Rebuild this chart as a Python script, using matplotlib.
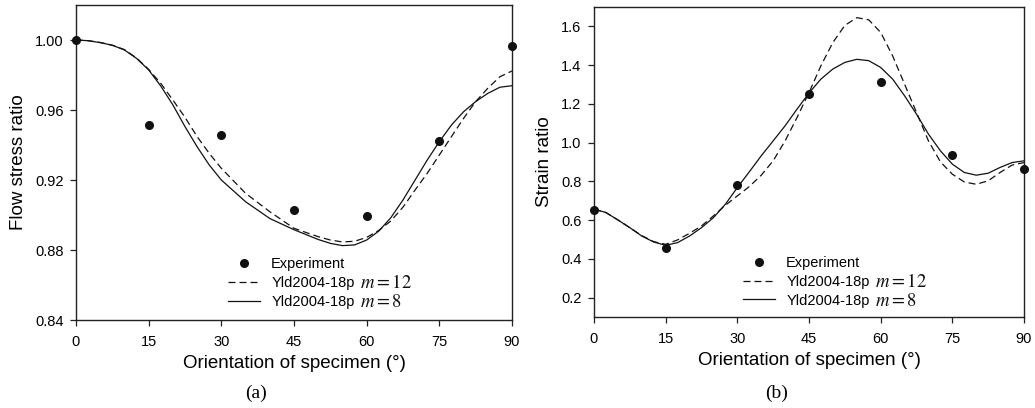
import matplotlib
matplotlib.use("Agg")
import matplotlib.pyplot as plt

plt.rcParams['font.family'] = ['Liberation Sans', 'DejaVu Sans']
plt.rcParams['mathtext.fontset'] = 'stix'

# ---- Panel (a): flow stress ratio ----
exp_angle = [0, 15, 30, 45, 60, 75, 90]
exp_flow = [1.000, 0.9516, 0.946, 0.903, 0.8994, 0.9423, 0.9966]

ang_a = [0, 2.5, 5, 7.5, 10, 12.5, 15, 17.5, 20, 22.5, 25, 27.5, 30, 35, 40, 45,
         50, 52.5, 55, 57.5, 60, 62.5, 65, 67.5, 70, 72.5, 75, 77.5, 80, 82.5,
         85, 87.5, 90]
flow_m12 = [1.000, 0.9996, 0.9986, 0.9970, 0.9945, 0.9897, 0.9832, 0.9752, 0.9657,
            0.9558, 0.9448, 0.9352, 0.9267, 0.9124, 0.9019, 0.8924, 0.8876, 0.8857,
            0.8846, 0.8850, 0.8872, 0.8912, 0.8966, 0.9045, 0.9143, 0.9238, 0.9343,
            0.9448, 0.9552, 0.9648, 0.9724, 0.9790, 0.9823]
flow_m8 = [1.000, 0.9996, 0.9985, 0.9970, 0.9943, 0.9895, 0.9829, 0.9737, 0.9629,
           0.9505, 0.9390, 0.9286, 0.9200, 0.9076, 0.8980, 0.8916, 0.8860, 0.8838,
           0.8825, 0.8829, 0.8857, 0.8908, 0.8985, 0.9086, 0.9200, 0.9314, 0.9419,
           0.9514, 0.9590, 0.9648, 0.9695, 0.9730, 0.9739]

# ---- Panel (b): strain ratio ----
exp_strain = [0.653, 0.455, 0.782, 1.252, 1.314, 0.937, 0.863]

ang_b = [0, 2.5, 5, 7.5, 10, 12.5, 15, 17.5, 20, 22.5, 25, 27.5, 30, 32.5, 35,
         37.5, 40, 42.5, 45, 47.5, 50, 52.5, 55, 57.5, 60, 62.5, 65, 67.5, 70,
         72.5, 75, 77.5, 80, 82.5, 85, 87.5, 90]
strain_m12 = [0.657, 0.639, 0.601, 0.561, 0.520, 0.489, 0.475, 0.498, 0.532, 0.570,
              0.622, 0.677, 0.725, 0.773, 0.832, 0.906, 1.009, 1.130, 1.258, 1.397,
              1.517, 1.605, 1.645, 1.634, 1.569, 1.448, 1.302, 1.156, 1.009, 0.901,
              0.837, 0.797, 0.785, 0.803, 0.846, 0.884, 0.897]
strain_m8 = [0.657, 0.639, 0.601, 0.561, 0.518, 0.487, 0.470, 0.484, 0.518, 0.561,
             0.613, 0.682, 0.768, 0.849, 0.932, 1.009, 1.087, 1.173, 1.256, 1.328,
             1.380, 1.414, 1.430, 1.423, 1.388, 1.328, 1.242, 1.147, 1.044, 0.958,
             0.889, 0.846, 0.832, 0.842, 0.872, 0.897, 0.906]

x_ticks = [0, 15, 30, 45, 60, 75, 90]
ya_ticks = [0.84, 0.88, 0.92, 0.96, 1.00]
yb_ticks = [0.2, 0.4, 0.6, 0.8, 1.0, 1.2, 1.4, 1.6]
model_name = 'Yld2004-18p'
m_labels = ['$m=12$', '$m=8$']

fig = plt.figure(figsize=(10.35, 4.08), dpi=100)
ax1 = fig.add_axes([76/1035, 88/408, 436/1035, 315/408])
ax2 = fig.add_axes([594/1035, 91/408, 430/1035, 310/408])

lw = 0.9
dash = (5.6, 3.2)


def style(ax):
    for s in ax.spines.values():
        s.set_linewidth(1.0)
        s.set_color('#222222')
    ax.tick_params(direction='out', length=4, width=0.9, labelsize=10.5,
                   color='#222222', pad=5)
    ax.tick_params(axis='x', pad=7)
    ax.set_xlim(0, 90)
    ax.set_xticks(x_ticks)
    ax.set_xlabel('Orientation of specimen (°)', fontsize=13.5, labelpad=4)


def add_legend(ax, anchor):
    leg = ax.legend(loc='upper left', bbox_to_anchor=anchor, frameon=False,
                    fontsize=10.5, handlelength=2.2, handletextpad=0.75,
                    labelspacing=0.32, borderpad=0, borderaxespad=0)
    leg.set_zorder(5)
    texts = leg.get_texts()
    for t, ml in zip(texts[1:], m_labels):
        ax.annotate(ml, xy=(1, 0.0), xycoords=t, xytext=(4, -1.5),
                    textcoords='offset points', va='bottom', ha='left',
                    fontsize=13.5, color='#111111', zorder=10)


# Panel a
ax1.plot(exp_angle, exp_flow, 'o', color='#111111', ms=5.5, clip_on=False, zorder=4,
         label='Experiment')
ax1.plot(ang_a, flow_m12, color='#111111', lw=lw, dashes=dash, label=model_name)
ax1.plot(ang_a, flow_m8, color='#111111', lw=lw, label=model_name)
ax1.set_ylim(0.84, 1.02)
ax1.set_yticks(ya_ticks)
ax1.set_yticklabels(['%.2f' % v for v in ya_ticks])
ax1.set_ylabel('Flow stress ratio', fontsize=13.5, labelpad=6)
style(ax1)
add_legend(ax1, (0.349, 0.199))

# Panel b
ax2.plot(exp_angle, exp_strain, 'o', color='#111111', ms=5.5, clip_on=False, zorder=4,
         label='Experiment')
ax2.plot(ang_b, strain_m12, color='#111111', lw=lw, dashes=dash, label=model_name)
ax2.plot(ang_b, strain_m8, color='#111111', lw=lw, label=model_name)
ax2.set_ylim(0.1, 1.7)
ax2.set_yticks(yb_ticks)
ax2.set_yticklabels(['%.1f' % v for v in yb_ticks])
ax2.set_ylabel('Strain ratio', fontsize=13.5, labelpad=6)
style(ax2)
add_legend(ax2, (0.347, 0.196))

fig.text(256/1035, 1 - 393/408, '(a)', ha='center', va='center', fontsize=14,
         family='Liberation Serif')
fig.text(777/1035, 1 - 393/408, '(b)', ha='center', va='center', fontsize=14,
         family='Liberation Serif')

fig.canvas.draw()
fig.savefig('out.png', dpi=100)
